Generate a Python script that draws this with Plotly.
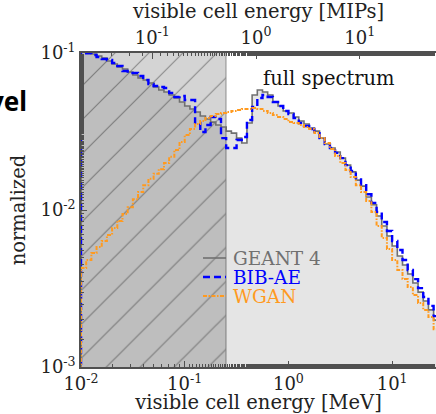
import numpy as np
import plotly.graph_objects as go

# ---- data ----
bin_start_log = -2.0          # first bin edge, log10(MeV)
bin_width_dex = 0.05          # log-spaced bins
shade_max_mev = 0.25          # hatched region upper edge
mip_mev = 0.487               # 1 MIP in MeV (top axis)

geant4 = [0.104, 0.101, 0.0985, 0.0957, 0.0929, 0.0889, 0.0851, 0.0814, 0.0791, 0.0757,
          0.0724, 0.0693, 0.0673, 0.0644, 0.0607, 0.0581, 0.0564, 0.0540, 0.0517, 0.0487,
          0.0460, 0.0440, 0.0421, 0.0397, 0.0380, 0.0363, 0.0348, 0.0338, 0.0318, 0.0309,
          0.0287, 0.0267, 0.0358, 0.0540, 0.0581, 0.0564, 0.0540, 0.0487, 0.0460, 0.0427,
          0.0415, 0.0391, 0.0369, 0.0353, 0.0333, 0.0318, 0.0287, 0.0263, 0.0248, 0.0234,
          0.0214, 0.0193, 0.0175, 0.0155, 0.0142, 0.0121, 0.0108, 0.00915, 0.00791, 0.00683,
          0.00590, 0.00509, 0.00446, 0.00391, 0.00343, 0.00300, 0.00263, 0.00231, 0.00199]

bibae = [0.102, 0.0995, 0.0971, 0.0943, 0.0916, 0.0902, 0.0864, 0.0826, 0.0768, 0.0746,
         0.0746, 0.0714, 0.0673, 0.0635, 0.0616, 0.0607, 0.0598, 0.0556, 0.0524, 0.0532,
         0.0502, 0.0502, 0.0358, 0.0314, 0.0348, 0.0391, 0.0380, 0.0287, 0.0248, 0.0248,
         0.0279, 0.0292, 0.0374, 0.0453, 0.0517, 0.0540, 0.0524, 0.0487, 0.0460, 0.0427,
         0.0409, 0.0385, 0.0358, 0.0343, 0.0328, 0.0309, 0.0287, 0.0263, 0.0248, 0.0231,
         0.0214, 0.0193, 0.0177, 0.0160, 0.0144, 0.0126, 0.0111, 0.00971, 0.00838, 0.00735,
         0.00634, 0.00556, 0.00480, 0.00415, 0.00363, 0.00318, 0.00279, 0.00245, 0.00211]

wgan = [0.00427, 0.00480, 0.00532, 0.00581, 0.00634, 0.00693, 0.00768, 0.00851, 0.00943, 0.0104,
        0.0117, 0.0130, 0.0144, 0.0158, 0.0170, 0.0182, 0.0199, 0.0218, 0.0241, 0.0271,
        0.0300, 0.0328, 0.0353, 0.0369, 0.0385, 0.0397, 0.0409, 0.0415, 0.0421, 0.0427,
        0.0433, 0.0440, 0.0440, 0.0446, 0.0440, 0.0427, 0.0415, 0.0403, 0.0391, 0.0380,
        0.0363, 0.0358, 0.0348, 0.0338, 0.0328, 0.0309, 0.0287, 0.0267, 0.0245, 0.0221,
        0.0199, 0.0180, 0.0162, 0.0144, 0.0130, 0.0114, 0.00971, 0.00791, 0.00663, 0.00564,
        0.00480, 0.00415, 0.00363, 0.00323, 0.00287, 0.00256, 0.00231, 0.00208, 0.00174]

series_names = ["GEANT 4", "BIB-AE", "WGAN"]
x_tick_vals = [0.01, 0.1, 1, 10]
x_tick_text = ["10<sup>-2</sup>", "10<sup>-1</sup>", "10<sup>0</sup>", "10<sup>1</sup>"]
mip_tick_vals = [0.1, 1, 10]
mip_tick_text = ["10<sup>-1</sup>", "10<sup>0</sup>", "10<sup>1</sup>"]
y_tick_vals = [0.001, 0.01, 0.1]
y_tick_text = ["10<sup>-3</sup>", "10<sup>-2</sup>", "10<sup>-1</sup>"]

# ---- build ----
n_bins = len(geant4)
edges = 10 ** (bin_start_log + bin_width_dex * np.arange(n_bins + 1))
FLOOR = 1e-6

def step_xy(vals):
    x = np.concatenate([[edges[0]], edges])
    y = np.concatenate([[FLOOR], vals, [vals[-1]]])
    return x, y

SERIF = "DejaVu Serif"
GREY = "#707070"
BLUE = "#0000ff"
ORANGE = "#ff9a1f"
AX = "#505050"

fig = go.Figure()

# hatched low-energy region
fig.add_trace(go.Scatter(
    x=[edges[0], shade_max_mev, shade_max_mev, edges[0], edges[0]],
    y=[FLOOR, FLOOR, 1.0, 1.0, FLOOR],
    mode="lines", fill="toself", fillcolor="#d4d4d4",
    fillpattern=dict(shape="/", fgcolor="#8c8c8c", bgcolor="#d4d4d4",
                     size=24, solidity=0.05, fillmode="replace"),
    line=dict(color="#8c8c8c", width=1),
    hoverinfo="skip", showlegend=False))

# baseline for GEANT4 fill
fig.add_trace(go.Scatter(x=[edges[0], edges[-1]], y=[FLOOR, FLOOR], mode="lines",
                         line=dict(width=0, color="rgba(0,0,0,0)"),
                         hoverinfo="skip", showlegend=False))
gx, gy = step_xy(geant4)
fig.add_trace(go.Scatter(x=gx, y=gy, mode="lines", line_shape="hv", fill="tonexty",
                         fillcolor="rgba(0,0,0,0.10)", line=dict(width=0, color="rgba(0,0,0,0)"),
                         hoverinfo="skip", showlegend=False))

styles = [
    dict(color=GREY, width=1.6, dash="solid"),
    dict(color=BLUE, width=2.4, dash="7px,4px"),
    dict(color=ORANGE, width=2.0, dash="4px,1.5px,1.5px,1.5px"),
]
colors = [GREY, BLUE, ORANGE]
for name, vals, st in zip(series_names, [geant4, bibae, wgan], styles):
    x, y = step_xy(vals)
    fig.add_trace(go.Scatter(x=x, y=y, mode="lines", line_shape="hv", line=st,
                             name=name, showlegend=False))

# dummy trace for top MIP axis
fig.add_trace(go.Scatter(x=edges / mip_mev, y=geant4 + [geant4[-1]], xaxis="x2", mode="lines",
                         line=dict(width=0, color="rgba(0,0,0,0)"), hoverinfo="skip",
                         showlegend=False))

xr = [-2.0, 1.423]
W, H = 436, 414
ml, mr, mt, mb = 81, 0, 53, 47
PW, PH = W - ml - mr, H - mt - mb

def px(X):
    return (X - ml) / PW

def py(Y):
    return 1 - (Y - mt) / PH

tickfont = dict(family=SERIF, size=18, color="#222")
titlefont = dict(family=SERIF, size=19.5, color="#222")
common = dict(showgrid=False, zeroline=False, showline=True, linecolor=AX, linewidth=1.5,
              ticks="inside", ticklen=6, tickcolor=AX, tickfont=tickfont, automargin=False,
              minor=dict(ticks="inside", ticklen=3, tickcolor=AX, showgrid=False))

# manual legend (line sample + coloured text)
legend_rows_y = [258, 277, 296]
shapes = []
annotations = []
for name, st, c, yy in zip(series_names, styles, colors, legend_rows_y):
    shapes.append(dict(type="line", xref="paper", yref="paper",
                       x0=px(203), x1=px(226), y0=py(yy), y1=py(yy),
                       line=dict(color=st["color"], width=st["width"], dash=st["dash"])))
    annotations.append(dict(text=name, xref="paper", yref="paper", x=px(231), y=py(yy),
                            xanchor="left", yanchor="middle", showarrow=False,
                            font=dict(family=SERIF, size=18.5, color=c)))

annotations += [
    dict(text="full spectrum", xref="paper", yref="paper",
         x=px(329), y=py(78), xanchor="center", yanchor="middle",
         showarrow=False, font=dict(family=SERIF, size=19.5, color="#111")),
    dict(text="<b>vel</b>", xref="paper", yref="paper",
         x=px(29), y=py(101), xanchor="right", yanchor="middle", showarrow=False,
         font=dict(family="Noto Sans", size=26, color="#000")),
]

fig.update_layout(
    width=W, height=H, margin=dict(l=ml, r=mr, t=mt, b=mb),
    paper_bgcolor="white", plot_bgcolor="white", showlegend=False,
    xaxis=dict(type="log", range=xr, tickvals=x_tick_vals, ticktext=x_tick_text, **common,
               title=dict(text="visible cell energy [MeV]", font=titlefont, standoff=2)),
    xaxis2=dict(type="log", overlaying="x", side="top",
                range=[xr[0] - np.log10(mip_mev), xr[1] - np.log10(mip_mev)],
                tickvals=mip_tick_vals, ticktext=mip_tick_text, **common,
                title=dict(text="visible cell energy [MIPs]", font=titlefont, standoff=2)),
    yaxis=dict(type="log", range=[-3, -1], tickvals=y_tick_vals, ticktext=y_tick_text, **common,
               title=dict(text="normalized", font=titlefont, standoff=10)),
    shapes=shapes,
    annotations=annotations,
)

fig.write_html("out.html", config={"displayModeBar": False},
               post_script="document.body.style.margin='0';")
